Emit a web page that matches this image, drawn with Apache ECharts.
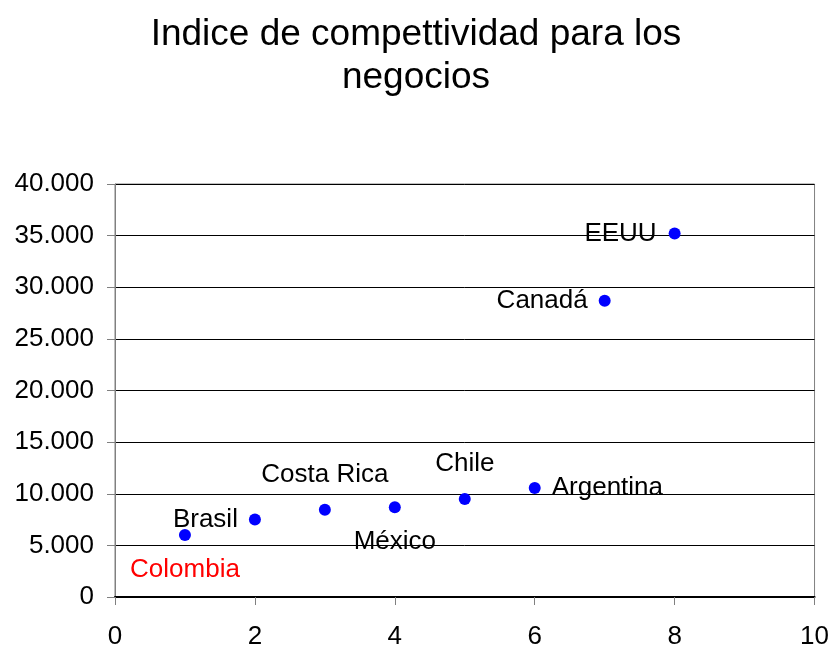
<!DOCTYPE html>
<html>
<head>
<meta charset="utf-8">
<title>Indice de competitividad</title>
<script src="https://cdn.jsdelivr.net/npm/echarts@6/dist/echarts.min.js"></script>
<style>
  html, body { margin: 0; padding: 0; background: #fff; }
  #chart { width: 832px; height: 650px; }
</style>
</head>
<body>
<div id="chart"></div>
<script>
// datos
const countries = ['Colombia', 'Brasil', 'Costa Rica', 'México', 'Chile', 'Argentina', 'Canadá', 'EEUU']
const xValues = [1, 2, 3, 4, 5, 6, 7, 8]
const yValues = [6000, 7500, 8450, 8700, 9500, 10550, 28700, 35200]

// donde va cada etiqueta (solo estilo)
const labelStyle = {
  'Colombia':   { position: 'inside', offset: [0, 35], color: '#ff0000' },
  'Brasil':     { position: 'left', distance: 11 },
  'Costa Rica': { position: 'inside', offset: [0, -35] },
  'México':     { position: 'inside', offset: [0, 35] },
  'Chile':      { position: 'inside', offset: [0, -35] },
  'Argentina':  { position: 'right', distance: 11 },
  'Canadá':     { position: 'left', distance: 11 },
  'EEUU':       { position: 'left', distance: 12 }
}

const font = '"Liberation Sans", Arial, sans-serif'

const chart = echarts.init(document.getElementById('chart'))

const points = countries.map((name, i) => {
  return {
    name: name,
    value: [xValues[i], yValues[i]],
    label: labelStyle[name]
  }
})

const option = {
  animation: false,
  backgroundColor: '#fff',
  title: {
    text: 'Indice de compettividad para los\nnegocios',
    left: 'center',
    top: 8,
    textStyle: {
      fontFamily: font,
      fontSize: 37,
      fontWeight: 'normal',
      color: '#000',
      lineHeight: 43
    }
  },
  grid: {
    left: 115,
    right: 17,
    top: 184,
    bottom: 53,
    show: true,
    borderColor: '#808080',
    borderWidth: 1
  },
  xAxis: {
    type: 'value',
    min: 0,
    max: 10,
    interval: 2,
    axisLine: { show: true, lineStyle: { color: '#000', width: 2 } },
    axisTick: { show: true, inside: false, length: 8, lineStyle: { color: '#808080' } },
    splitLine: { show: false },
    axisLabel: { color: '#000', fontSize: 26, fontFamily: font, margin: 27 }
  },
  yAxis: {
    type: 'value',
    min: 0,
    max: 40000,
    interval: 5000,
    axisLine: { show: true, lineStyle: { color: '#808080', width: 1 } },
    axisTick: { show: true, inside: false, length: 8, lineStyle: { color: '#808080' } },
    splitLine: { show: true, lineStyle: { color: '#000', width: 1 } },
    axisLabel: {
      color: '#000',
      fontSize: 26,
      fontFamily: font,
      margin: 21,
      formatter: (v) => v.toString().replace(/\B(?=(\d{3})+(?!\d))/g, '.')
    }
  },
  series: [
    {
      type: 'scatter',
      symbol: 'circle',
      symbolSize: 12,
      itemStyle: { color: '#0000ff', opacity: 1 },
      label: {
        show: true,
        formatter: '{b}',
        color: '#000',
        fontSize: 26,
        fontFamily: font
      },
      data: points
    }
  ]
}

chart.setOption(option)
</script>
</body>
</html>
